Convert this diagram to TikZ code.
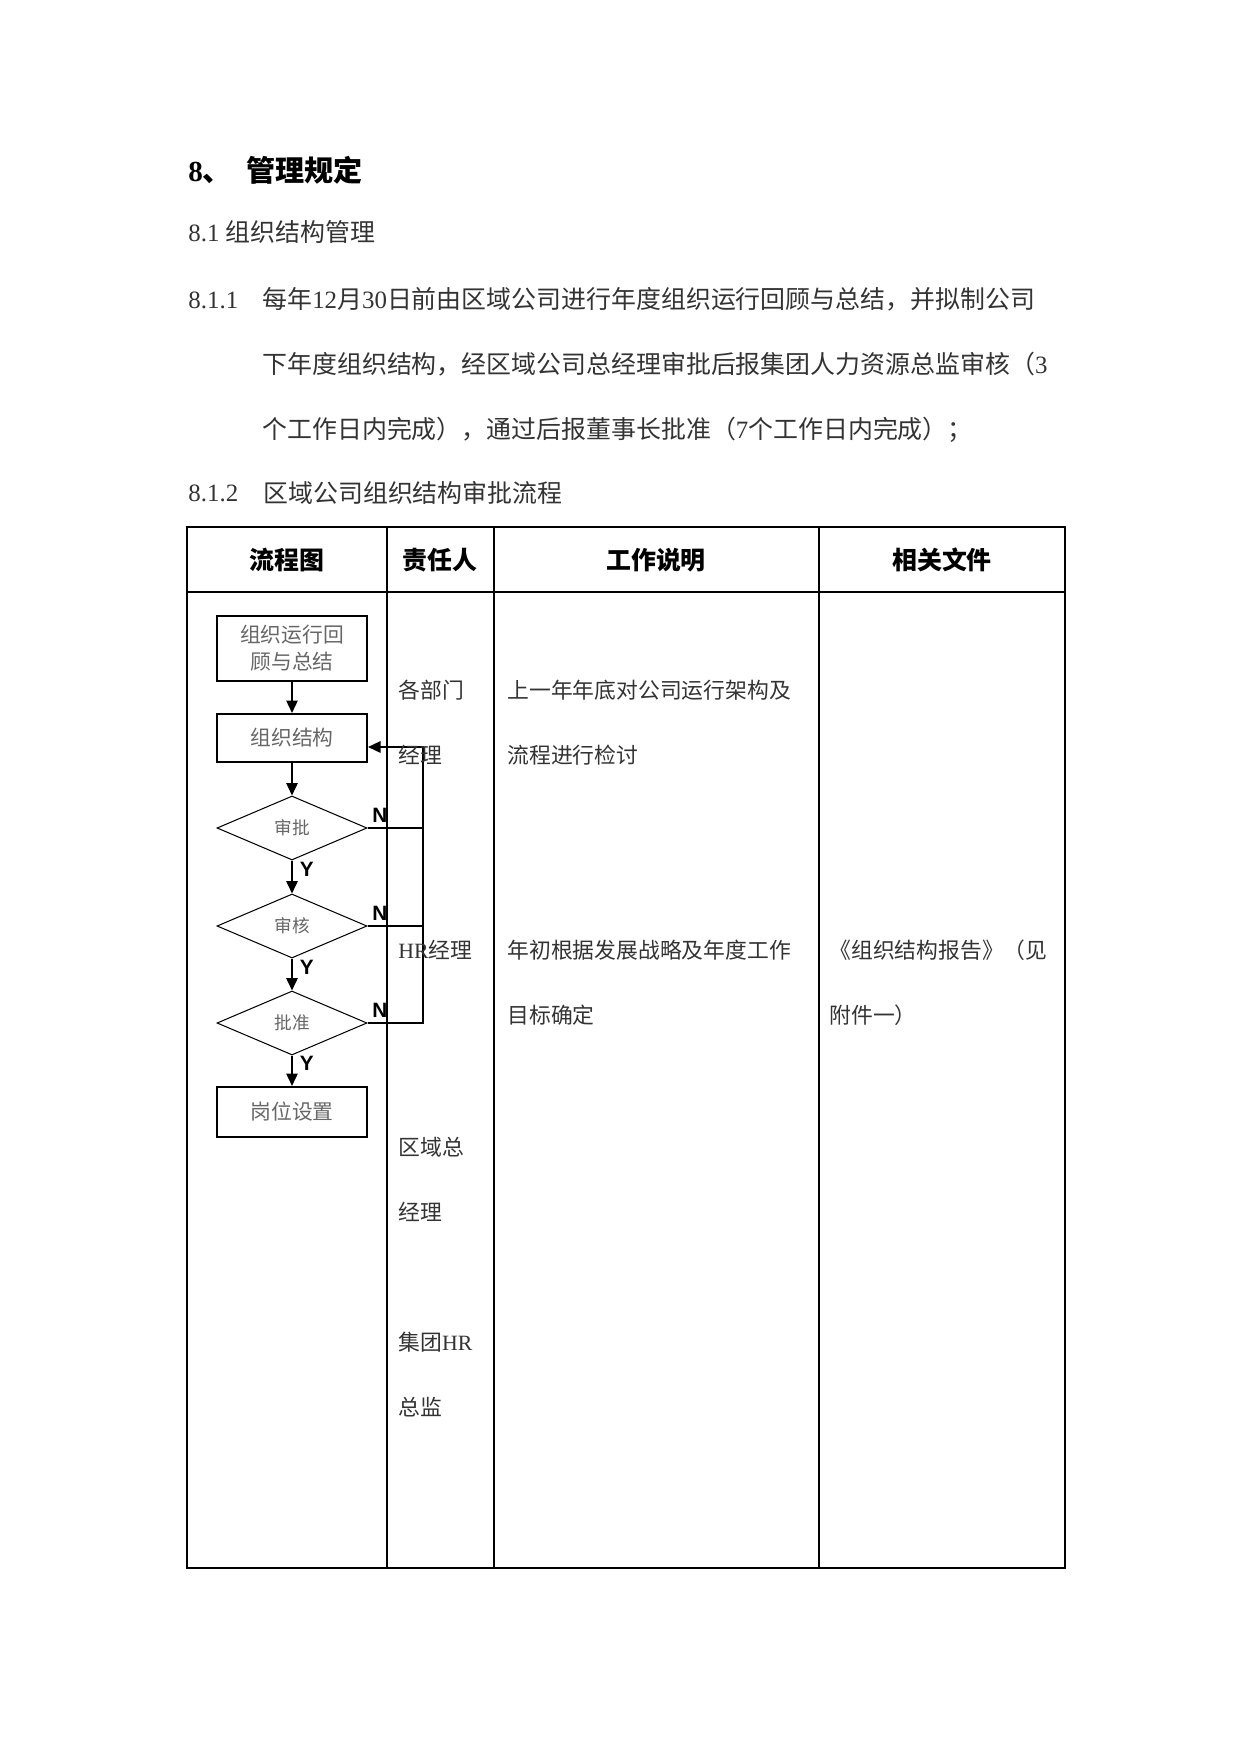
\documentclass[tikz,border=0pt]{standalone}
\usepackage{fontspec}
\setmainfont{Liberation Serif}
\setsansfont{Liberation Sans}
\newfontfamily\zhfont{Noto Sans CJK SC}
\newcommand\zh[1]{{\zhfont #1}}
\usetikzlibrary{positioning,shapes.geometric,arrows.meta}
\newlength\pxu
\setlength\pxu{0.169218mm}

\begin{document}
\begin{tikzpicture}[
  x=\pxu, y=-\pxu,
  body/.style={anchor=west, inner sep=0pt, align=left, text=black!80, font=\fontsize{12}{31.2}\selectfont},
  cell/.style={anchor=west, inner sep=0pt, align=left, text=black!80, font=\fontsize{10.5}{31.2}\selectfont},
  head/.style={inner sep=0pt, font=\fontsize{12}{14}\selectfont\zhfont\bfseries},
  box/.style={draw, line width=1pt, minimum width=150\pxu, inner sep=0pt, align=center, text=black!60, font=\fontsize{10}{13}\selectfont\zhfont},
  decide/.style={draw, diamond, line width=0.5pt, minimum width=150\pxu, minimum height=64\pxu, inner sep=0pt, text=black!60, font=\fontsize{8.5}{10}\selectfont\zhfont},
  link/.style={line width=0.8pt},
  flow/.style={link, -{Triangle[length=6pt,width=5.5pt]}},
  yn/.style={inner sep=0pt, font=\fontsize{10}{12}\selectfont\sffamily\bfseries},
  tablerule/.style={line width=0.6pt}
]
\useasboundingbox (0,0) rectangle (1241,1754);

\node[anchor=west, inner sep=0pt, font=\fontsize{14}{16}\selectfont\bfseries] (title) at (188,170) {8\zh{、}\hspace{7pt}\zh{管理规定}};
\node[body] (sec81) at (188,232) {8.1 \zh{组织结构管理}};
\node[body] (sec811) at (188,300) {8.1.1};
\node[body] (intro) at (262,365) {\zh{每年}12\zh{月}30\zh{日前由区域公司进行年度组织运行回顾与总结，并拟制公司}\\\zh{下年度组织结构，经区域公司总经理审批后报集团人力资源总监审核（}3\\\zh{个工作日内完成），通过后报董事长批准（}7\zh{个工作日内完成）；}};
\node[body] (sec812) at (188,493) {8.1.2};
\node[body] (caption) at (263,493) {\zh{区域公司组织结构审批流程}};

\draw[tablerule] (187,527) rectangle (1065,1568);
\draw[tablerule] (187,592) -- (1065,592);
\foreach \x in {387,494,819}
  \draw[tablerule] (\x,527) -- (\x,1568);

\node[head] (colflow) at (287,560) {流程图};
\node[head] (colwho) at (440,560) {责任人};
\node[head] (colwork) at (656,560) {工作说明};
\node[head] (coldoc) at (942,560) {相关文件};

\node[box, minimum height=65\pxu] (review) at (292,648.5) {组织运行回\\顾与总结};
\node[box, minimum height=48\pxu] (struct) at (292,738) {组织结构};
\node[decide] (approve) at (292,828) {审批};
\node[decide] (audit) at (292,926) {审核};
\node[decide] (ratify) at (292,1023) {批准};
\node[box, minimum height=50\pxu] (post) at (292,1112) {岗位设置};
\coordinate (loop) at (423,747);

\draw[flow] (review) -- (struct);
\draw[flow] (struct) -- (approve);
\draw[flow] (approve) -- node[yn, pos=0.27, right=7\pxu] {Y} (audit);
\draw[flow] (audit) -- node[yn, pos=0.27, right=7\pxu] {Y} (ratify);
\draw[flow] (ratify) -- node[yn, pos=0.27, right=7\pxu] {Y} (post);

\draw[link] (approve.east) -- node[yn, at start, above right=5\pxu and 4\pxu] {N} (approve.east -| loop);
\draw[link] (audit.east) -- node[yn, at start, above right=5\pxu and 4\pxu] {N} (audit.east -| loop);
\draw[flow] (ratify.east) -- node[yn, at start, above right=5\pxu and 4\pxu] {N} (ratify.east -| loop) -- (loop) -- (loop -| struct.east);

\node[cell] (dept) at (398,722.5) {\zh{各部门}\\\zh{经理}};
\node[cell] (hr) at (398,950) {HR\zh{经理}};
\node[cell] (gm) at (398,1179.5) {\zh{区域总}\\\zh{经理}};
\node[cell] (grouphr) at (398,1374.5) {\zh{集团}HR\\\zh{总监}};

\node[cell] (workreview) at (507,722.5) {\zh{上一年年底对公司运行架构及}\\\zh{流程进行检讨}};
\node[cell] (worktarget) at (507,982.5) {\zh{年初根据发展战略及年度工作}\\\zh{目标确定}};
\node[cell] (report) at (829,982.5) {\zh{《组织结构报告》（见}\\\zh{附件一）}};

\end{tikzpicture}
\end{document}
